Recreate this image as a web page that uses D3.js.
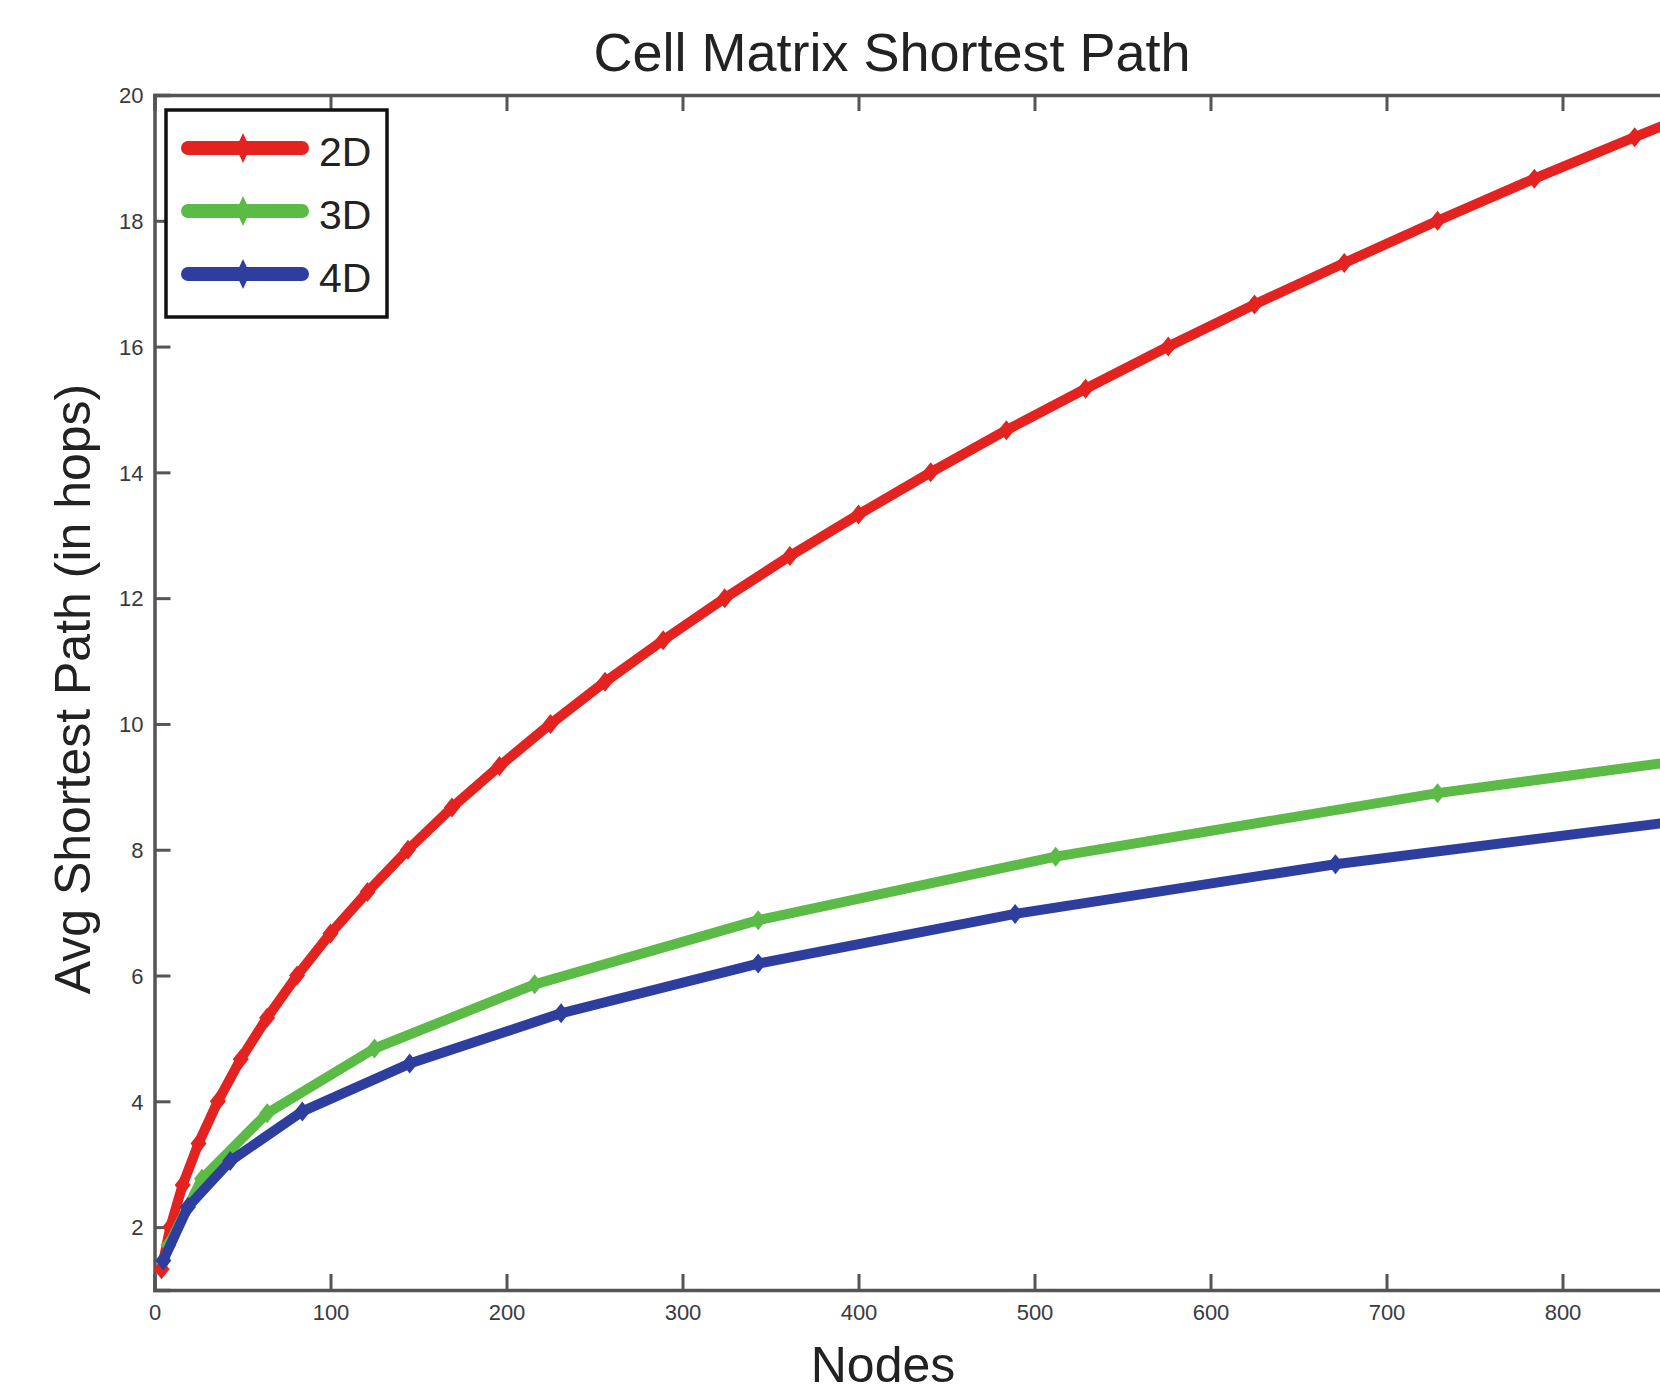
<!DOCTYPE html>
<html>
<head>
<meta charset="utf-8">
<script src="https://cdn.jsdelivr.net/npm/d3@7"></script>
<style>
  html, body { margin: 0; padding: 0; background: #fff; overflow: hidden; }
  svg { display: block; }
</style>
</head>
<body>
<div id="chart"></div>
<script>
// ---- data ----
const seriesNames = ["2D", "3D", "4D"];
const nodes2D = [4, 9, 16, 25, 36, 49, 64, 81, 100, 121, 144, 169, 196, 225, 256, 289, 324, 361, 400, 441, 484, 529, 576, 625, 676, 729, 784, 841, 900];
const path2D  = [1.33, 2.0, 2.67, 3.33, 4.0, 4.67, 5.33, 6.0, 6.67, 7.33, 8.0, 8.67, 9.33, 10.0, 10.67, 11.33, 12.0, 12.67, 13.33, 14.0, 14.67, 15.33, 16.0, 16.67, 17.33, 18.0, 18.67, 19.33, 20.0];
const nodes3D = [8, 27, 64, 125, 216, 343, 512, 729, 1000];
const path3D  = [1.71, 2.77, 3.81, 4.84, 5.86, 6.88, 7.89, 8.90, 9.91];
const nodes4D = [5, 19, 43, 84, 145, 231, 343, 489, 671, 893];
const path4D  = [1.47, 2.32, 3.05, 3.84, 4.60, 5.40, 6.19, 6.98, 7.77, 8.55];
const xTicks = [0, 100, 200, 300, 400, 500, 600, 700, 800];
const yTicks = [2, 4, 6, 8, 10, 12, 14, 16, 18, 20];

const W = 1660, H = 1396;
const colors = ["#e42320", "#5cbb46", "#2d3e9e"];

const svg = d3.select("#chart").append("svg")
  .attr("width", W).attr("height", H)
  .style("font-family", "'Liberation Sans', Arial, sans-serif");

const x = d3.scaleLinear().domain([0, 1000]).range([154.5, 1914.5]);
const y = d3.scaleLinear().domain([1, 20]).range([1290, 95]);

const axisColor = "#555";

// Bottom axis
const gx = svg.append("g").attr("transform", `translate(0,${y(1)})`)
  .call(d3.axisBottom(x).tickValues(xTicks).tickSize(-16).tickPadding(14).tickFormat(d3.format("d")));
// Top axis
const gt = svg.append("g").attr("transform", `translate(0,${y(20)})`)
  .call(d3.axisTop(x).tickValues(xTicks).tickSize(-16).tickFormat(""));
// Left axis
const gy = svg.append("g").attr("transform", `translate(${x(0)},0)`)
  .call(d3.axisLeft(y).tickValues(yTicks).tickSize(-16).tickPadding(11).tickFormat(d3.format("d")));

[gx, gt, gy].forEach(g => {
  g.select(".domain").attr("stroke", axisColor).attr("stroke-width", 3.5);
  g.selectAll(".tick line").attr("stroke", axisColor).attr("stroke-width", 3);
  g.selectAll(".tick text").attr("fill", "#3a3a3a").style("font-size", "22px")
   .style("font-family", "'Liberation Sans Narrow', 'Liberation Sans', Arial, sans-serif");
});
gy.selectAll(".tick text").attr("dy", "0.35em");

// Lines
const series = [
  { name: seriesNames[0], xs: nodes2D, ys: path2D, color: colors[0] },
  { name: seriesNames[1], xs: nodes3D, ys: path3D, color: colors[1] },
  { name: seriesNames[2], xs: nodes4D, ys: path4D, color: colors[2] }
];

const line = d3.line().x(d => x(d[0])).y(d => y(d[1]));
const markerPath = (hw, hh) => `M0,${-hh}L${hw},0L0,${hh}L${-hw},0Z`;

series.forEach(s => {
  const pts = s.xs.map((v, i) => [v, s.ys[i]]);
  const g = svg.append("g");
  g.append("path").datum(pts)
    .attr("d", line)
    .attr("fill", "none")
    .attr("stroke", s.color)
    .attr("stroke-width", 10)
    .attr("stroke-linejoin", "round")
    .attr("stroke-linecap", "round");
  g.selectAll("path.m").data(pts).enter().append("path")
    .attr("class", "m")
    .attr("d", markerPath(8, 10))
    .attr("transform", d => `translate(${x(d[0])},${y(d[1])})`)
    .attr("fill", s.color);
});

// Legend
const lg = svg.append("g");
lg.append("rect").attr("x", 166).attr("y", 110).attr("width", 221).attr("height", 207)
  .attr("fill", "#fff").attr("stroke", "#111").attr("stroke-width", 3.5);
const legY = [148, 211, 274];
series.forEach((s, i) => {
  lg.append("line").attr("x1", 188).attr("x2", 302).attr("y1", legY[i]).attr("y2", legY[i])
    .attr("stroke", s.color).attr("stroke-width", 14).attr("stroke-linecap", "round");
  lg.append("path").attr("d", markerPath(7, 15))
    .attr("transform", `translate(243,${legY[i]})`).attr("fill", s.color);
  lg.append("text").attr("x", 319).attr("y", legY[i] + 18)
    .attr("fill", "#222").style("font-size", "41px").text(s.name);
});

// Title
svg.append("text").attr("x", 892).attr("y", 71).attr("text-anchor", "middle")
  .attr("fill", "#222").style("font-size", "54px").text("Cell Matrix Shortest Path");

// X label
svg.append("text").attr("x", 883).attr("y", 1382).attr("text-anchor", "middle")
  .attr("fill", "#222").style("font-size", "50px").text("Nodes");

// Y label
svg.append("text").attr("transform", "translate(90,689) rotate(-90)").attr("text-anchor", "middle")
  .attr("fill", "#222").style("font-size", "50px").text("Avg Shortest Path (in hops)");
</script>
</body>
</html>
